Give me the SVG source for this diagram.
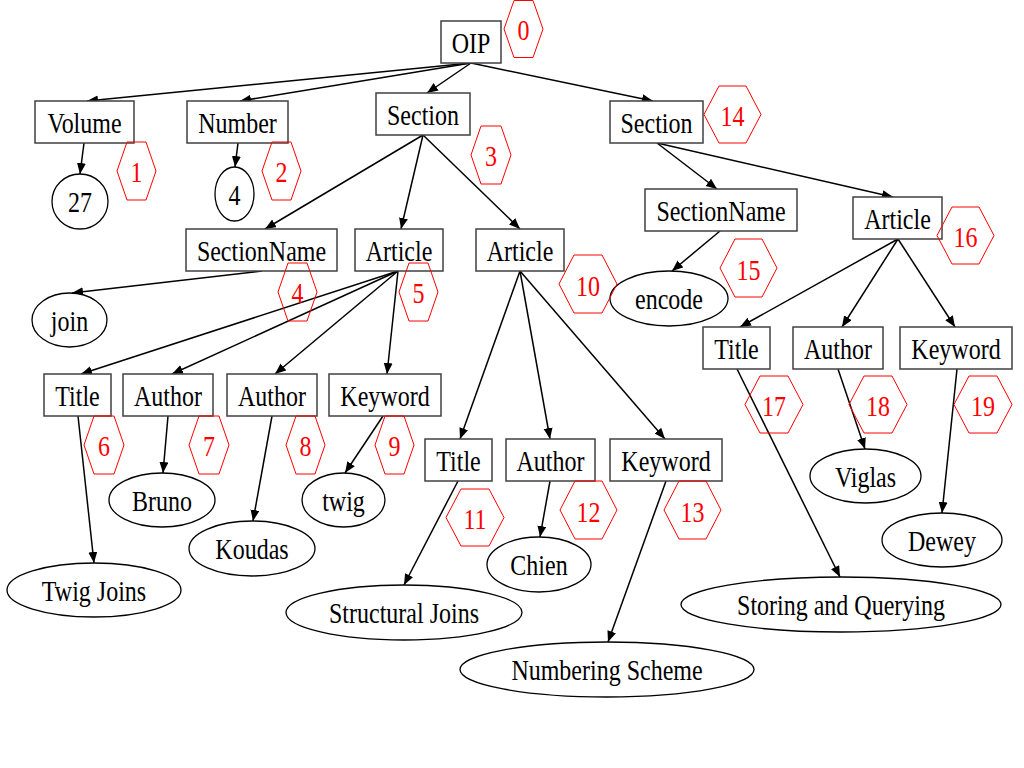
<svg xmlns="http://www.w3.org/2000/svg" width="1024" height="768" viewBox="0 0 1024 768">
<style>
.box{fill:#fff;stroke:#404040;stroke-width:1.5}
.ell{fill:#fff;stroke:#000;stroke-width:1.3}
.hex{fill:none;stroke:#ff0000;stroke-width:1}
.lbl{font-family:'Liberation Serif',serif;font-size:24px;fill:#000;text-anchor:middle}
.num{font-family:'Liberation Serif',serif;font-size:24px;fill:#ff0000;text-anchor:middle}
.edge{stroke:#000;stroke-width:1.5;fill:none;marker-end:url(#arr)}
</style>
<defs>
<marker id="arr" markerUnits="userSpaceOnUse" markerWidth="12" markerHeight="10" refX="11" refY="4.5" orient="auto">
<path d="M0,0 L11,4.5 L0,9 z" fill="#000"/>
</marker>
</defs>
<rect width="1024" height="768" fill="#fff"/>
<g id="connectors">
<line class="edge" x1="471" y1="63" x2="87" y2="101"/>
<line class="edge" x1="471" y1="63" x2="240" y2="101"/>
<line class="edge" x1="471" y1="63" x2="427" y2="93"/>
<line class="edge" x1="471" y1="63" x2="653" y2="101"/>
<line class="edge" x1="84" y1="143" x2="80" y2="174"/>
<line class="edge" x1="238" y1="143" x2="235" y2="167"/>
<line class="edge" x1="423" y1="135" x2="265" y2="229"/>
<line class="edge" x1="423" y1="135" x2="401" y2="229"/>
<line class="edge" x1="423" y1="135" x2="520" y2="229"/>
<line class="edge" x1="262" y1="271" x2="72" y2="293"/>
<line class="edge" x1="398" y1="271" x2="81" y2="374"/>
<line class="edge" x1="398" y1="271" x2="172" y2="374"/>
<line class="edge" x1="398" y1="271" x2="275" y2="374"/>
<line class="edge" x1="398" y1="271" x2="387" y2="374"/>
<line class="edge" x1="78" y1="416" x2="94" y2="563"/>
<line class="edge" x1="168" y1="416" x2="163" y2="473"/>
<line class="edge" x1="272" y1="416" x2="253" y2="521"/>
<line class="edge" x1="383" y1="416" x2="345" y2="473"/>
<line class="edge" x1="520" y1="271" x2="460" y2="439"/>
<line class="edge" x1="520" y1="271" x2="550" y2="439"/>
<line class="edge" x1="520" y1="271" x2="665" y2="439"/>
<line class="edge" x1="458" y1="481" x2="404" y2="585"/>
<line class="edge" x1="550" y1="481" x2="540" y2="537"/>
<line class="edge" x1="666" y1="481" x2="608" y2="642"/>
<line class="edge" x1="657" y1="143" x2="717" y2="189"/>
<line class="edge" x1="657" y1="143" x2="893" y2="197"/>
<line class="edge" x1="720" y1="231" x2="672" y2="271"/>
<line class="edge" x1="898" y1="239" x2="740" y2="327"/>
<line class="edge" x1="898" y1="239" x2="842" y2="327"/>
<line class="edge" x1="898" y1="239" x2="955" y2="327"/>
<line class="edge" x1="737" y1="369" x2="840" y2="577"/>
<line class="edge" x1="838" y1="369" x2="865" y2="449"/>
<line class="edge" x1="957" y1="369" x2="942" y2="513"/>
</g>
<g id="n-oip"><rect class="box" x="441" y="21" width="60" height="42"/><text class="lbl" transform="translate(471,52.5) scale(1,1.2)">OIP</text></g>
<g id="n-volume"><rect class="box" x="35" y="101" width="99" height="42"/><text class="lbl" transform="translate(84.5,132.5) scale(1,1.2)">Volume</text></g>
<g id="n-number"><rect class="box" x="187" y="101" width="101" height="42"/><text class="lbl" transform="translate(237.5,132.5) scale(1,1.2)">Number</text></g>
<g id="n-section3"><rect class="box" x="376" y="93" width="94" height="42"/><text class="lbl" transform="translate(423,124.5) scale(1,1.2)">Section</text></g>
<g id="n-section14"><rect class="box" x="610" y="101" width="93" height="42"/><text class="lbl" transform="translate(656.5,132.5) scale(1,1.2)">Section</text></g>
<g id="n-sectionname4"><rect class="box" x="186" y="229" width="151" height="42"/><text class="lbl" transform="translate(261.5,260.5) scale(1,1.2)">SectionName</text></g>
<g id="n-article5"><rect class="box" x="355" y="229" width="88" height="42"/><text class="lbl" transform="translate(399,260.5) scale(1,1.2)">Article</text></g>
<g id="n-article10"><rect class="box" x="476" y="229" width="88" height="42"/><text class="lbl" transform="translate(520,260.5) scale(1,1.2)">Article</text></g>
<g id="n-sectionname15"><rect class="box" x="645" y="189" width="152" height="42"/><text class="lbl" transform="translate(721,220.5) scale(1,1.2)">SectionName</text></g>
<g id="n-article16"><rect class="box" x="853" y="197" width="89" height="42"/><text class="lbl" transform="translate(897.5,228.5) scale(1,1.2)">Article</text></g>
<g id="n-title6"><rect class="box" x="44" y="374" width="67" height="42"/><text class="lbl" transform="translate(77.5,405.5) scale(1,1.2)">Title</text></g>
<g id="n-author7"><rect class="box" x="123" y="374" width="90" height="42"/><text class="lbl" transform="translate(168,405.5) scale(1,1.2)">Author</text></g>
<g id="n-author8"><rect class="box" x="227" y="374" width="90" height="42"/><text class="lbl" transform="translate(272,405.5) scale(1,1.2)">Author</text></g>
<g id="n-keyword9"><rect class="box" x="329" y="374" width="112" height="42"/><text class="lbl" transform="translate(385,405.5) scale(1,1.2)">Keyword</text></g>
<g id="n-title11"><rect class="box" x="425" y="439" width="67" height="42"/><text class="lbl" transform="translate(458.5,470.5) scale(1,1.2)">Title</text></g>
<g id="n-author12"><rect class="box" x="506" y="439" width="89" height="42"/><text class="lbl" transform="translate(550.5,470.5) scale(1,1.2)">Author</text></g>
<g id="n-keyword13"><rect class="box" x="610" y="439" width="112" height="42"/><text class="lbl" transform="translate(666,470.5) scale(1,1.2)">Keyword</text></g>
<g id="n-title17"><rect class="box" x="703" y="327" width="67" height="42"/><text class="lbl" transform="translate(736.5,358.5) scale(1,1.2)">Title</text></g>
<g id="n-author18"><rect class="box" x="793" y="327" width="90" height="42"/><text class="lbl" transform="translate(838,358.5) scale(1,1.2)">Author</text></g>
<g id="n-keyword19"><rect class="box" x="900" y="327" width="112" height="42"/><text class="lbl" transform="translate(956,358.5) scale(1,1.2)">Keyword</text></g>
<g id="v-27"><ellipse class="ell" cx="80" cy="201.5" rx="28" ry="27.5"/><text class="lbl" transform="translate(80,212) scale(1,1.2)">27</text></g>
<g id="v-4"><ellipse class="ell" cx="234.5" cy="194" rx="19.5" ry="27"/><text class="lbl" transform="translate(234.5,204.5) scale(1,1.2)">4</text></g>
<g id="v-join"><ellipse class="ell" cx="69.5" cy="320" rx="37.5" ry="27"/><text class="lbl" transform="translate(69.5,330.5) scale(1,1.2)">join</text></g>
<g id="v-encode"><ellipse class="ell" cx="669" cy="298.5" rx="59" ry="27.5"/><text class="lbl" transform="translate(669,309) scale(1,1.2)">encode</text></g>
<g id="v-bruno"><ellipse class="ell" cx="162" cy="500" rx="53" ry="27"/><text class="lbl" transform="translate(162,510.5) scale(1,1.2)">Bruno</text></g>
<g id="v-twig"><ellipse class="ell" cx="343.5" cy="500" rx="41.5" ry="27"/><text class="lbl" transform="translate(343.5,510.5) scale(1,1.2)">twig</text></g>
<g id="v-koudas"><ellipse class="ell" cx="252" cy="548.5" rx="63" ry="27.5"/><text class="lbl" transform="translate(252,559) scale(1,1.2)">Koudas</text></g>
<g id="v-twigjoins"><ellipse class="ell" cx="94" cy="590" rx="87" ry="27"/><text class="lbl" transform="translate(94,600.5) scale(1,1.2)">Twig Joins</text></g>
<g id="v-structural"><ellipse class="ell" cx="404" cy="612.5" rx="118" ry="27.5"/><text class="lbl" transform="translate(404,623) scale(1,1.2)">Structural Joins</text></g>
<g id="v-chien"><ellipse class="ell" cx="539" cy="564.5" rx="52" ry="27.5"/><text class="lbl" transform="translate(539,575) scale(1,1.2)">Chien</text></g>
<g id="v-numbering"><ellipse class="ell" cx="607" cy="669.5" rx="147" ry="27.5"/><text class="lbl" transform="translate(607,680) scale(1,1.2)">Numbering Scheme</text></g>
<g id="v-viglas"><ellipse class="ell" cx="865.5" cy="476" rx="55.5" ry="27"/><text class="lbl" transform="translate(865.5,486.5) scale(1,1.2)">Viglas</text></g>
<g id="v-dewey"><ellipse class="ell" cx="942" cy="540" rx="60" ry="27"/><text class="lbl" transform="translate(942,550.5) scale(1,1.2)">Dewey</text></g>
<g id="v-storing"><ellipse class="ell" cx="841" cy="604.5" rx="160" ry="27.5"/><text class="lbl" transform="translate(841,615) scale(1,1.2)">Storing and Querying</text></g>
<g id="h-0"><polygon class="hex" points="504,29 514,0.5 533,0.5 543,29 533,57.5 514,57.5"/><text class="num" transform="translate(523.5,40) scale(1,1.2)">0</text></g>
<g id="h-1"><polygon class="hex" points="117,171 127,142 146,142 156,171 146,200 127,200"/><text class="num" transform="translate(136.5,182) scale(1,1.2)">1</text></g>
<g id="h-2"><polygon class="hex" points="262,171 272,142 291,142 301,171 291,200 272,200"/><text class="num" transform="translate(281.5,182) scale(1,1.2)">2</text></g>
<g id="h-3"><polygon class="hex" points="471,155 481,126 501,126 511,155 501,184 481,184"/><text class="num" transform="translate(491,166) scale(1,1.2)">3</text></g>
<g id="h-4"><polygon class="hex" points="278,292 288,263 307,263 317,292 307,321 288,321"/><text class="num" transform="translate(297.5,303) scale(1,1.2)">4</text></g>
<g id="h-5"><polygon class="hex" points="399,292 409,263 428,263 438,292 428,321 409,321"/><text class="num" transform="translate(418.5,303) scale(1,1.2)">5</text></g>
<g id="h-6"><polygon class="hex" points="84,445 94,416 114,416 124,445 114,474 94,474"/><text class="num" transform="translate(104,456) scale(1,1.2)">6</text></g>
<g id="h-7"><polygon class="hex" points="189,445 199,416 219,416 229,445 219,474 199,474"/><text class="num" transform="translate(209,456) scale(1,1.2)">7</text></g>
<g id="h-8"><polygon class="hex" points="286,445 296,416 315,416 325,445 315,474 296,474"/><text class="num" transform="translate(305.5,456) scale(1,1.2)">8</text></g>
<g id="h-9"><polygon class="hex" points="375,445 385,416 404,416 414,445 404,474 385,474"/><text class="num" transform="translate(394.5,456) scale(1,1.2)">9</text></g>
<g id="h-10"><polygon class="hex" points="559,284 574,255 602,255 617,284 602,313 574,313"/><text class="num" transform="translate(588,295.5) scale(1,1.2)">10</text></g>
<g id="h-11"><polygon class="hex" points="446,517.5 461,489 489,489 504,517.5 489,546 461,546"/><text class="num" transform="translate(475,529) scale(1,1.2)">11</text></g>
<g id="h-12"><polygon class="hex" points="560,510 575,481 602,481 617,510 602,539 575,539"/><text class="num" transform="translate(588.5,521.5) scale(1,1.2)">12</text></g>
<g id="h-13"><polygon class="hex" points="664,510 679,481 706,481 721,510 706,539 679,539"/><text class="num" transform="translate(692.5,521.5) scale(1,1.2)">13</text></g>
<g id="h-14"><polygon class="hex" points="704,114.5 719,86 746,86 761,114.5 746,143 719,143"/><text class="num" transform="translate(732.5,126) scale(1,1.2)">14</text></g>
<g id="h-15"><polygon class="hex" points="720,268 735,239 762,239 777,268 762,297 735,297"/><text class="num" transform="translate(748.5,279.5) scale(1,1.2)">15</text></g>
<g id="h-16"><polygon class="hex" points="937,235.5 952,207 979,207 994,235.5 979,264 952,264"/><text class="num" transform="translate(965.5,247) scale(1,1.2)">16</text></g>
<g id="h-17"><polygon class="hex" points="745,404.5 760,376 788,376 803,404.5 788,433 760,433"/><text class="num" transform="translate(774,416) scale(1,1.2)">17</text></g>
<g id="h-18"><polygon class="hex" points="849,404.5 864,376 892,376 907,404.5 892,433 864,433"/><text class="num" transform="translate(878,416) scale(1,1.2)">18</text></g>
<g id="h-19"><polygon class="hex" points="954,404.5 969,376 997,376 1012,404.5 997,433 969,433"/><text class="num" transform="translate(983,416) scale(1,1.2)">19</text></g>
</svg>
